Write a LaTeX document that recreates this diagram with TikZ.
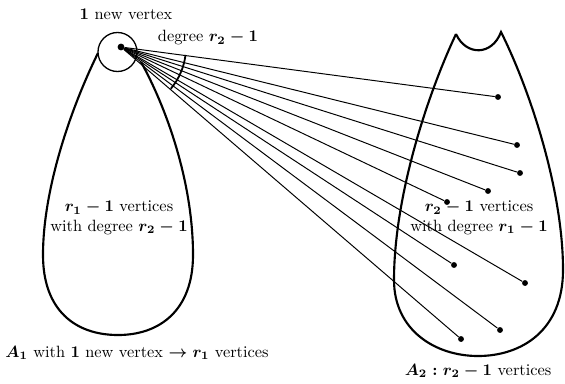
\documentclass[tikz,border=0pt]{standalone}
\usepackage{amsmath,amssymb,bm}
\usetikzlibrary{calc}

\begin{document}
\begin{tikzpicture}[x=0.0215cm,y=-0.0215cm,
  lbl/.style={font=\boldmath,inner sep=1pt},
  dot/.style={circle,fill=black,inner sep=0pt,minimum size=4.2pt},
  blob/.style={line width=1.3pt},
  edge/.style={line width=0.6pt}]
\useasboundingbox (0,0) rectangle (565,383);
% left set A1 with the new vertex
\draw[blob] (98,53) .. controls (70,110) and (43,190) .. (43,255) .. controls (43,310) and (75,335) .. (118,335)
  .. controls (160,335) and (193,310) .. (193,255) .. controls (193,180) and (165,105) .. (141,62);
\draw[line width=0.8pt] (117.5,52) circle[radius=19.5];
\node[dot] (v) at (121,47) {};
% right set A2
\draw[blob] (456,34) .. controls (425,100) and (394,200) .. (394,280) .. controls (394,330) and (435,356) .. (478,356)
  .. controls (522,356) and (563,330) .. (563,270) .. controls (563,190) and (530,90) .. (501,32)
  .. controls (492,56) and (466,56) .. (456,34);
% end points and edges
\foreach \n/\p in {1/{498,97},2/{517,145},3/{520,173},4/{488,191},5/{447,202},6/{454,265},7/{525,283},8/{500,330},9/{461,339}}{
  \node[dot,minimum size=3.6pt] (b\n) at (\p) {};
  \draw[edge] (v)--(b\n);
}
\draw[line width=1.1pt] ($(v)+(7:65)$) arc[start angle=7,end angle=40,radius=65];
% labels
\node[lbl] (newlbl) at (126,14) {$1$ new vertex};
\node[lbl] (deglbl) at (208,38) {degree $r_2-1$};
\node[lbl,align=center] (leftlbl) at (119,218) {$r_1-1$ vertices\\with degree $r_2-1$};
\node[lbl,align=center] (rightlbl) at (479,218) {$r_2-1$ vertices\\with degree $r_1-1$};
\node[lbl] (aonelbl) at (137,353) {$A_1$ with $1$ new vertex $\rightarrow r_1$ vertices};
\node[lbl] (atwolbl) at (478,371) {$A_2:r_2-1$ vertices};
\end{tikzpicture}
\end{document}
